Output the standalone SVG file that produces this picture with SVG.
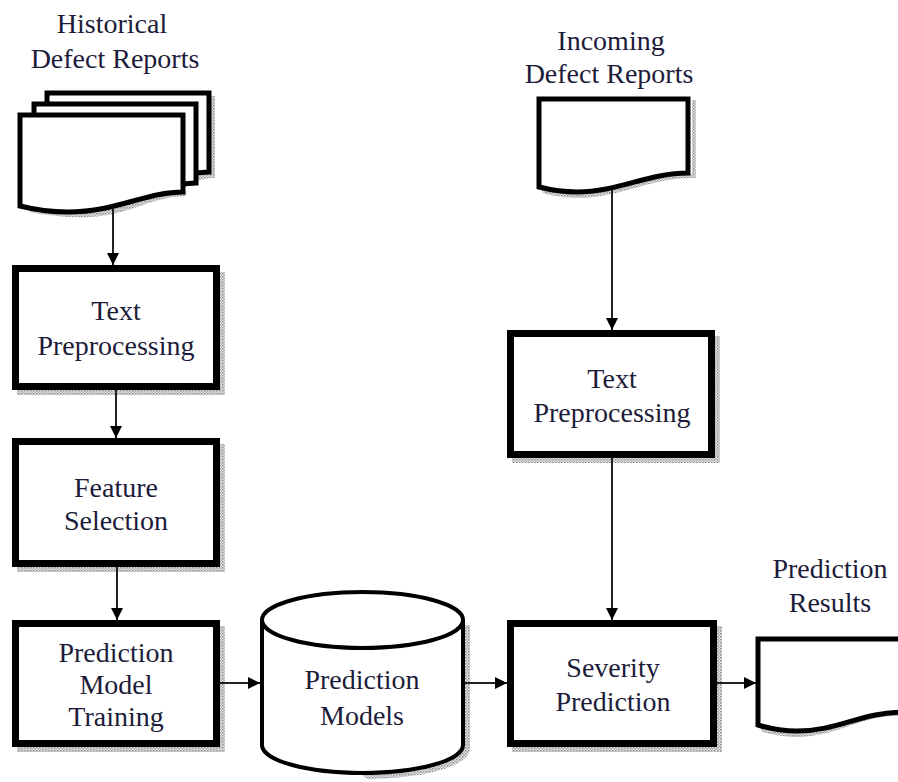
<svg xmlns="http://www.w3.org/2000/svg" width="898" height="782" viewBox="0 0 898 782">
<defs>
<pattern id="stip" width="3" height="3" patternUnits="userSpaceOnUse">
<rect width="3" height="3" fill="#e6e6e6"/>
<rect width="1.5" height="1.5" fill="#8a8a8a"/>
<rect x="1.5" y="1.5" width="1.5" height="1.5" fill="#b0b0b0"/>
</pattern>
<marker id="arr" viewBox="0 0 12 12" markerWidth="12" markerHeight="12" refX="12" refY="6" orient="auto" markerUnits="userSpaceOnUse">
<path d="M0,0 L12,6 L0,12 Z" fill="#000"/>
</marker>
</defs>
<style>
.box{fill:#fff;stroke:#000;stroke-width:7}
.doc{fill:#fff;stroke:#000;stroke-width:5;stroke-linejoin:miter}
.shadow{fill:url(#stip);stroke:none}
.t{font-family:"Liberation Serif","Times New Roman",serif;font-size:28px;fill:#1c1c3a;text-anchor:middle}
.conn{stroke:#222;stroke-width:2;fill:none;marker-end:url(#arr)}
</style>
<rect width="898" height="782" fill="#fff"/>

<g id="historical-reports">
<text class="t" x="112" y="33">Historical</text>
<text class="t" x="115" y="68">Defect Reports</text>
<path class="shadow" d="M211,96 H215 V178 C205,178 200,180 195,182 V176 C200,174 205,174 211,174 Z"/>
<path class="doc" d="M47,93 H209 V172 C175,172 145,192 95,192 C75,192 58,189 47,186 Z"/>
<path class="doc" d="M34,104 H196 V183 C162,183 132,203 82,203 C62,203 45,200 34,197 Z"/>
<path class="shadow" d="M30,212 C50,216 70,218 90,217 C130,215 150,197 186,196 L186,192 C150,192 120,212 80,212 C60,212 40,210 30,208 Z"/>
<path class="doc" d="M20,115 H183 V192 C146,192 116,212 68,212 C47,212 32,209 20,206 Z"/>
</g>

<g id="incoming-reports">
<text class="t" x="611" y="50">Incoming</text>
<text class="t" x="609" y="83">Defect Reports</text>
<path class="shadow" d="M692,100 H696 V178 L692,178 Z"/>
<path class="shadow" d="M545,194 C560,197 570,198 582,198 C625,196 650,178 694,178 L694,174 C650,174 620,193 577,193 C560,193 548,191 540,189 Z"/>
<path class="doc" d="M539,99 H688 V173 C648,173 618,192 577,192 C560,192 547,189 539,187 Z"/>
</g>

<g id="tp-left">
<rect class="shadow" x="220" y="272" width="5" height="123"/>
<rect class="shadow" x="17" y="390" width="208" height="5"/>
<rect class="box" x="15.5" y="268.5" width="201" height="118"/>
<text class="t" x="116" y="320">Text</text>
<text class="t" x="116" y="355">Preprocessing</text>
</g>

<g id="feature-selection">
<rect class="shadow" x="220" y="444" width="5" height="128"/>
<rect class="shadow" x="17" y="567" width="208" height="5"/>
<rect class="box" x="15.5" y="441.5" width="201" height="122"/>
<text class="t" x="116" y="497">Feature</text>
<text class="t" x="116" y="530">Selection</text>
</g>

<g id="model-training">
<rect class="shadow" x="220" y="626" width="5" height="126"/>
<rect class="shadow" x="17" y="747" width="208" height="5"/>
<rect class="box" x="15.5" y="623.5" width="201" height="120"/>
<text class="t" x="116" y="662">Prediction</text>
<text class="t" x="116" y="694">Model</text>
<text class="t" x="116" y="726">Training</text>
</g>

<g id="prediction-models">
<path class="shadow" d="M465,625 H470 V748 C470,765 430,778 368,779 L362,775 C420,775 465,762 465,745 Z"/>
<path d="M262,620 V745 A100.5,28 0 0 0 463,745 V620" fill="#fff" stroke="#000" stroke-width="4"/>
<ellipse cx="362.5" cy="620" rx="100.5" ry="28" fill="#fff" stroke="#000" stroke-width="4"/>
<text class="t" x="362" y="689">Prediction</text>
<text class="t" x="362" y="725">Models</text>
</g>

<g id="tp-right">
<rect class="shadow" x="715" y="336" width="5" height="127"/>
<rect class="shadow" x="512" y="458" width="208" height="5"/>
<rect class="box" x="510.5" y="333.5" width="201" height="121"/>
<text class="t" x="612" y="388">Text</text>
<text class="t" x="612" y="422">Preprocessing</text>
</g>

<g id="severity-prediction">
<rect class="shadow" x="717" y="626" width="5" height="126"/>
<rect class="shadow" x="512" y="747" width="210" height="5"/>
<rect class="box" x="510.5" y="623.5" width="203" height="120"/>
<text class="t" x="613" y="677">Severity</text>
<text class="t" x="613" y="711">Prediction</text>
</g>

<g id="prediction-results">
<text class="t" x="830" y="578">Prediction</text>
<text class="t" x="830" y="612">Results</text>
<path class="shadow" d="M762,732 C775,735 785,737 800,737 C840,735 860,716 898,716 L898,712 C860,712 835,731 795,731 C780,731 768,729 760,727 Z"/>
<path class="doc" d="M758,639 H905 V712 C862,712 838,731 797,731 C780,731 768,728 758,725 Z"/>
</g>

<g id="connectors">
<line class="conn" x1="113" y1="209" x2="113" y2="265"/>
<line class="conn" x1="116" y1="390" x2="116" y2="438"/>
<line class="conn" x1="117" y1="567" x2="117" y2="620"/>
<line class="conn" x1="612" y1="190" x2="612" y2="330"/>
<line class="conn" x1="612" y1="458" x2="612" y2="620"/>
<line class="conn" x1="220" y1="683" x2="260" y2="683"/>
<line class="conn" x1="465" y1="683" x2="507" y2="683"/>
<line class="conn" x1="717" y1="683" x2="756" y2="683"/>
</g>
</svg>
